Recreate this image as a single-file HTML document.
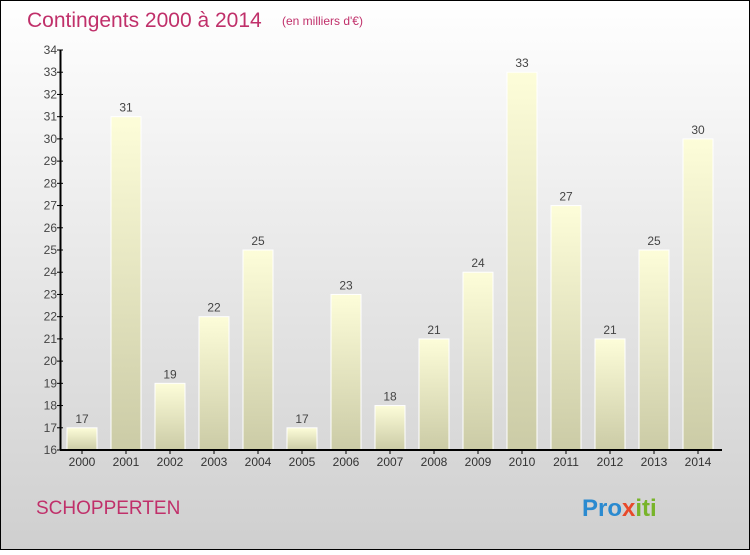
<!DOCTYPE html>
<html><head><meta charset="utf-8"><style>
html,body{margin:0;padding:0}
body{width:750px;height:550px;overflow:hidden;font-family:"Liberation Sans",sans-serif}
</style></head><body>
<svg width="750" height="550" xmlns="http://www.w3.org/2000/svg">
<defs>
<linearGradient id="bg" x1="0" y1="0" x2="0" y2="1"><stop offset="0" stop-color="#ffffff"/><stop offset="1" stop-color="#cfcfcf"/></linearGradient>
<linearGradient id="bar" x1="0" y1="0" x2="0" y2="1"><stop offset="0" stop-color="#fdfdd9"/><stop offset="1" stop-color="#cbcba6"/></linearGradient>
</defs>
<rect x="0.5" y="0.5" width="749" height="549" fill="url(#bg)" stroke="#000"/>
<text x="27" y="27" font-size="21" fill="#c0306a">Contingents 2000 à 2014</text>
<text x="282" y="25" font-size="12" fill="#c0306a">(en milliers d'€)</text>
<text x="36" y="514" font-size="19" fill="#c0306a">SCHOPPERTEN</text>
<text x="582" y="516" font-size="24" font-weight="bold"><tspan fill="#2a8ad0">Pro</tspan><tspan fill="#e8492a">x</tspan><tspan fill="#78b42a">iti</tspan></text>
<g id="plot"></g>
</svg>
<script>
const years=["2000","2001","2002","2003","2004","2005","2006","2007","2008","2009","2010","2011","2012","2013","2014"];
const values=[17,31,19,22,25,17,23,18,21,24,33,27,21,25,30];
const yTicks=[16,17,18,19,20,21,22,23,24,25,26,27,28,29,30,31,32,33,34];
const NS="http://www.w3.org/2000/svg";
const g=document.getElementById('plot');
const yMin=16,yMax=34,plotTop=50,plotBot=450,x0=60,step=44;
const y=v=>plotBot-(v-yMin)/(yMax-yMin)*(plotBot-plotTop);
const xc=i=>x0+22+i*step;
function mk(t,a){const e=document.createElementNS(NS,t);for(const k in a)e.setAttribute(k,a[k]);g.appendChild(e);return e;}
values.forEach((v,i)=>{
 const r=mk('rect',{x:xc(i)-15,y:y(v),width:30,height:plotBot-y(v),fill:'url(#bar)',stroke:'#fff','stroke-width':1});
 
 
 const t=mk('text',{x:xc(i),y:y(v)-5,'text-anchor':'middle','font-size':12,fill:'#444'});
 t.textContent=v;
 
 
 const l=mk('text',{x:xc(i),y:plotBot+16,'text-anchor':'middle','font-size':12,fill:'#333'});
 l.textContent=years[i];
 
 
 mk('line',{x1:xc(i),x2:xc(i),y1:plotBot,y2:plotBot+4,stroke:'#000'});
});
yTicks.forEach(v=>{
 mk('line',{x1:x0-3,x2:x0+3,y1:y(v),y2:y(v),stroke:'#000'});
 const t=mk('text',{x:x0-3,y:y(v)+4,'text-anchor':'end','font-size':12,fill:'#444'});
 t.textContent=v;
 
 
});
const ya=mk('line',{x1:x0+0.5,x2:x0+0.5,y1:plotTop,y2:plotBot,stroke:'#000','stroke-width':2});


const xa=mk('line',{x1:x0,x2:722,y1:plotBot,y2:plotBot,stroke:'#000','stroke-width':2});


</script>
</body></html>
